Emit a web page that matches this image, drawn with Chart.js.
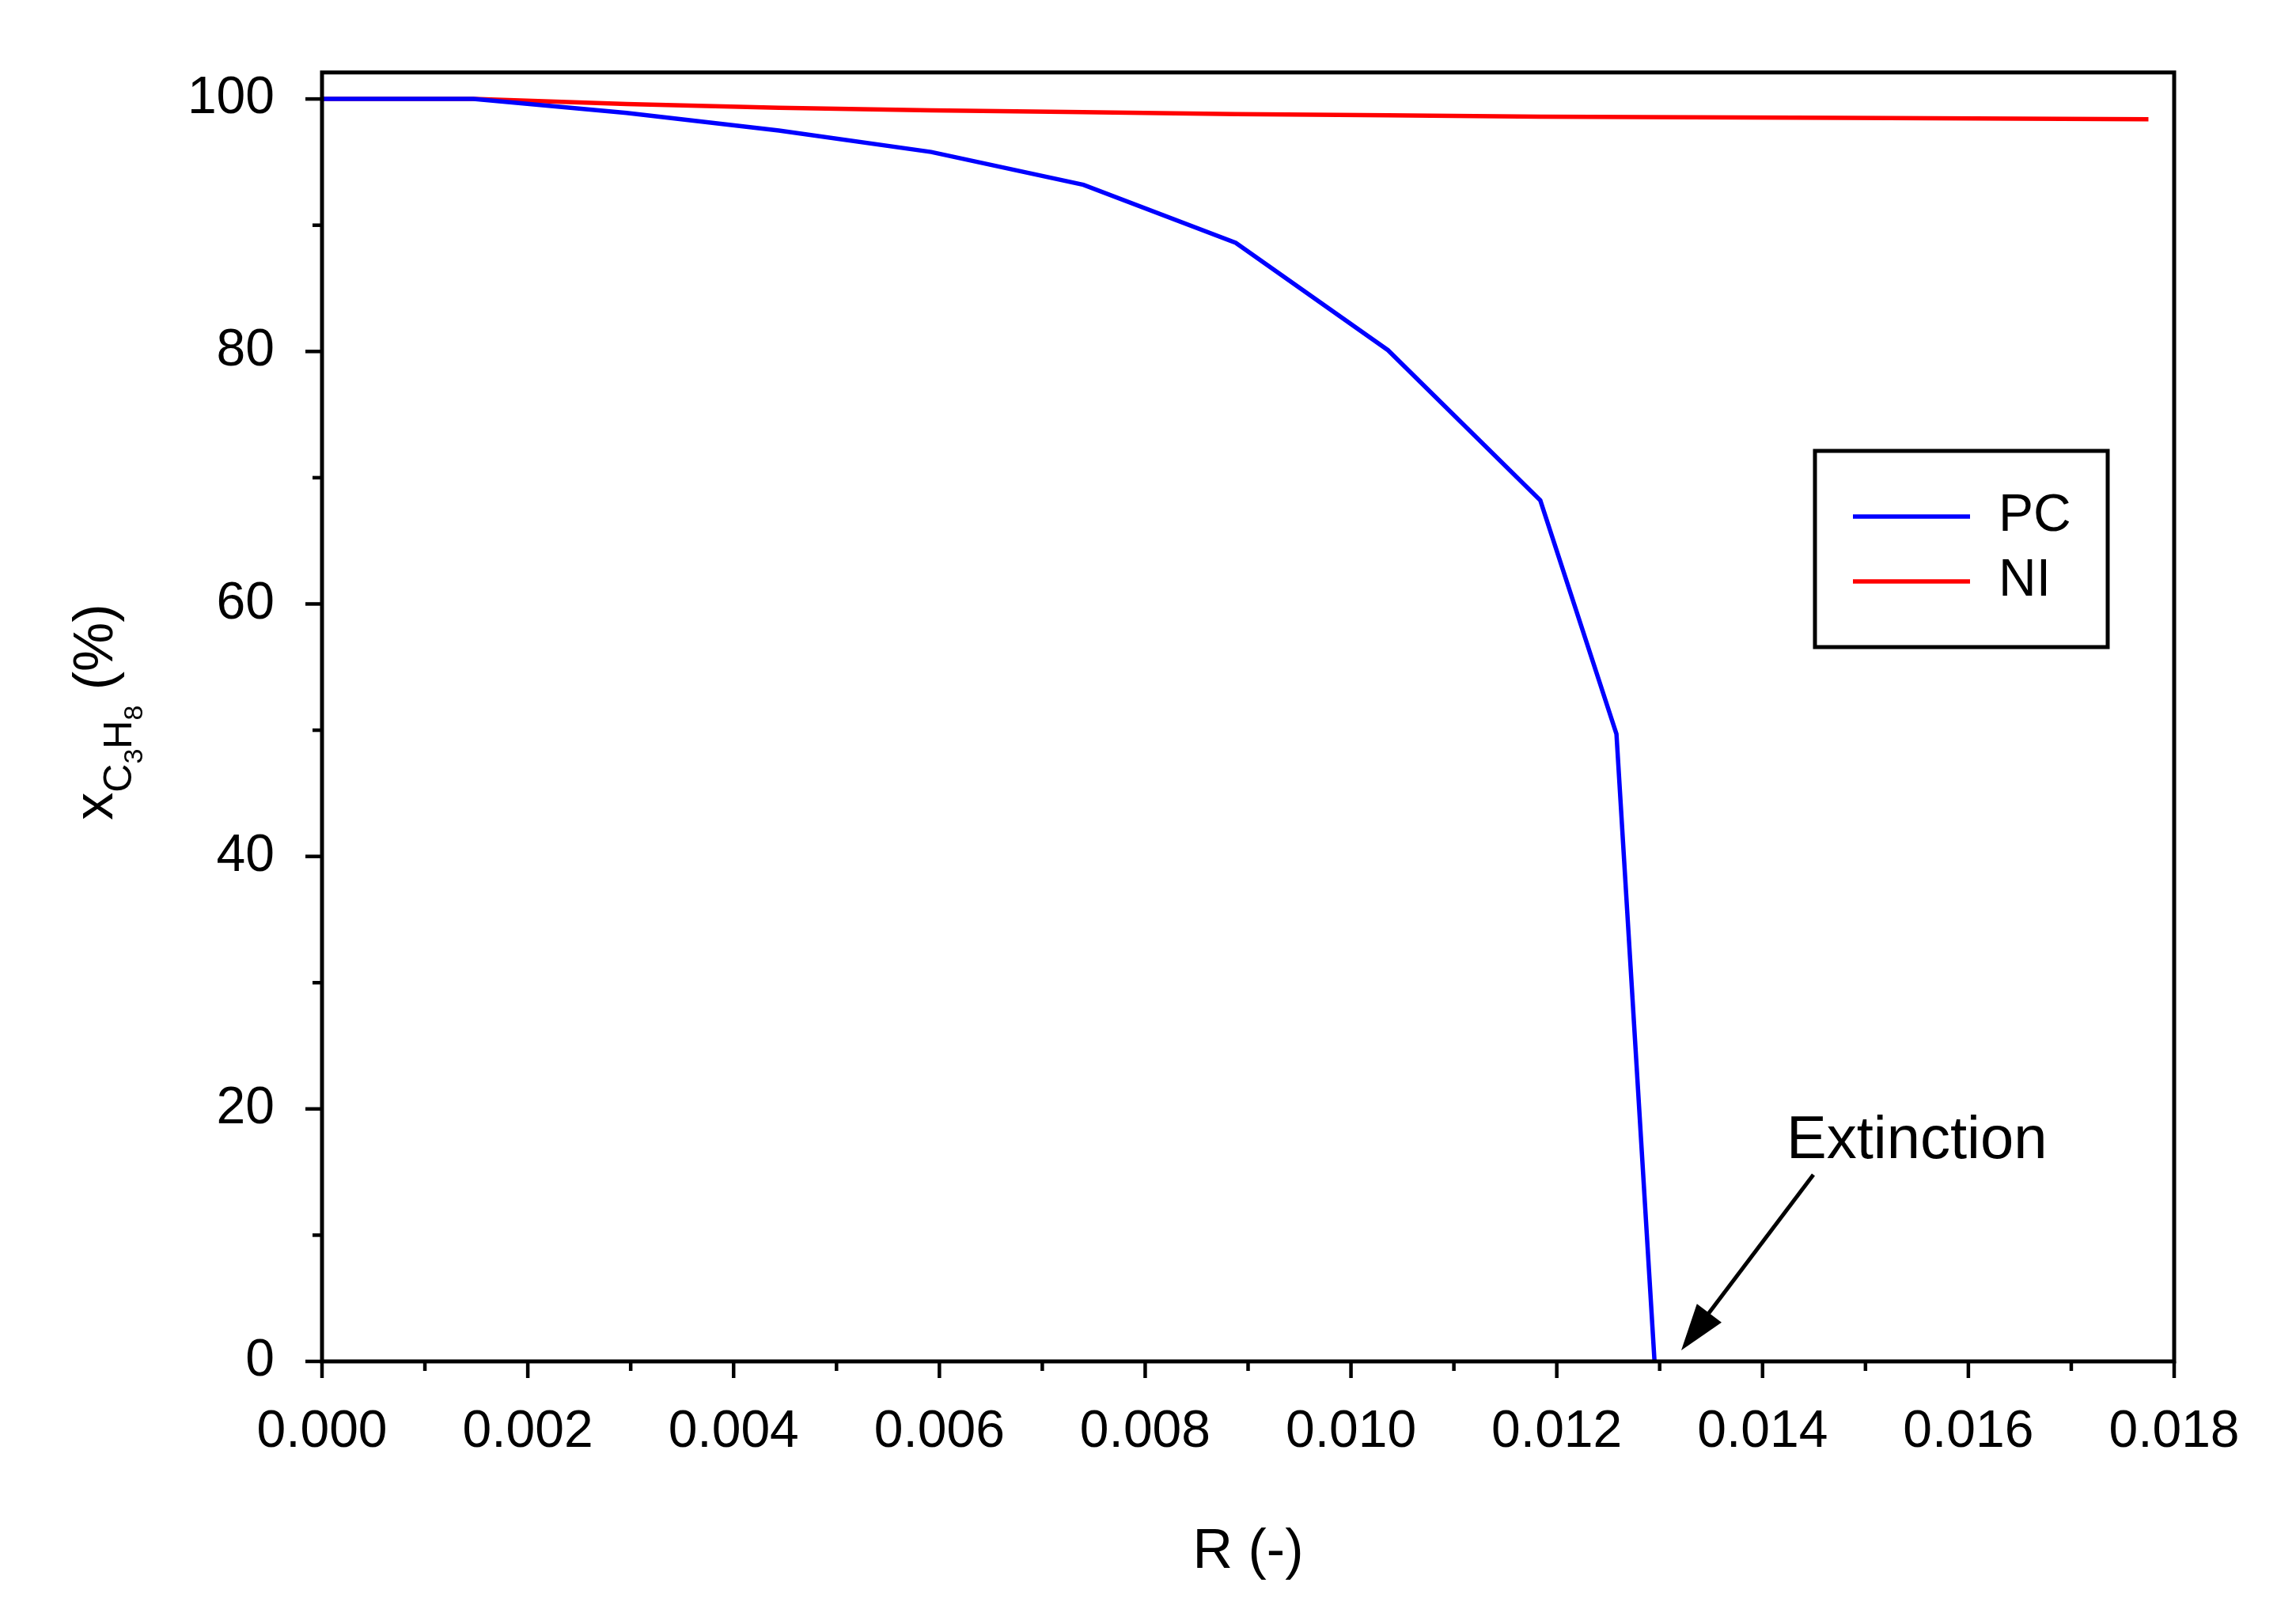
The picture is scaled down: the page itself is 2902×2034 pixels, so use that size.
<!DOCTYPE html>
<html><head><meta charset="utf-8">
<script src="https://cdn.jsdelivr.net/npm/chart.js@4/dist/chart.umd.min.js"></script>
<style>html,body{margin:0;padding:0;background:#fff}#c{display:block}</style>
</head><body>
<canvas id="c" width="2902" height="2034"></canvas>
<script>
const pcR  = [0, 0.00147, 0.00296, 0.00444, 0.00592, 0.0074, 0.00888, 0.01036, 0.01184, 0.01258, 0.01295];
const pcX  = [100, 100, 98.9, 97.5, 95.8, 93.2, 88.6, 80.1, 68.2, 49.7, 0];
const niR  = [0, 0.00147, 0.00296, 0.00444, 0.00592, 0.0074, 0.00888, 0.01036, 0.01184, 0.0148, 0.01775];
const niX  = [100, 100, 99.6, 99.3, 99.1, 98.95, 98.8, 98.7, 98.6, 98.5, 98.4];
const xTicks = [0, 0.002, 0.004, 0.006, 0.008, 0.010, 0.012, 0.014, 0.016, 0.018];
const yTicks = [0, 20, 40, 60, 80, 100];
const seriesNames = ['PC', 'NI'];
const annText = 'Extinction';
const FONT = 'Arial, "Liberation Sans", sans-serif';

const decor = {
  id: 'decor',
  afterDraw(chart) {
    const ctx = chart.ctx, a = chart.chartArea, xs = chart.scales.x, ys = chart.scales.y;
    ctx.save();
    ctx.strokeStyle = '#000'; ctx.lineWidth = 5;
    ctx.strokeRect(a.left, a.top, a.right - a.left, a.bottom - a.top);
    ctx.lineWidth = 4.5;
    for (let v = 0; v <= 0.0180001; v += 0.001) {
      const px = xs.getPixelForValue(v), major = Math.round(v * 1000) % 2 === 0;
      ctx.beginPath(); ctx.moveTo(px, a.bottom); ctx.lineTo(px, a.bottom + (major ? 21 : 12)); ctx.stroke();
    }
    for (let v = 0; v <= 100; v += 10) {
      const py = ys.getPixelForValue(v), major = v % 20 === 0;
      ctx.beginPath(); ctx.moveTo(a.left, py); ctx.lineTo(a.left - (major ? 21 : 12), py); ctx.stroke();
    }
    // y title
    ctx.fillStyle = '#000';
    ctx.translate(142, 900); ctx.rotate(-Math.PI / 2);
    ctx.textBaseline = 'alphabetic'; ctx.textAlign = 'left';
    const parts = [['x', 70, 0], ['C', 50, 24], ['3', 34, 38], ['H', 50, 24], ['8', 34, 38], [' (%)', 70, 0]];
    let w = 0;
    parts.forEach(p => { ctx.font = p[1] + 'px ' + FONT; w += ctx.measureText(p[0]).width; });
    let x = -w / 2;
    parts.forEach(p => { ctx.font = p[1] + 'px ' + FONT; ctx.fillText(p[0], x, p[2]); x += ctx.measureText(p[0]).width; });
    ctx.restore();
    // x title
    ctx.save();
    ctx.fillStyle = '#000'; ctx.font = '70px ' + FONT; ctx.textAlign = 'center';
    ctx.fillText('R (-)', (a.left + a.right) / 2, 1982);
    // legend
    ctx.lineWidth = 5; ctx.strokeRect(2294, 570, 370, 248);
    ctx.lineWidth = 5.5;
    const cols = ['#0000ff', '#ff0000'];
    seriesNames.forEach((n, i) => {
      const y = 653 + i * 82;
      ctx.strokeStyle = cols[i]; ctx.beginPath(); ctx.moveTo(2342, y); ctx.lineTo(2490, y); ctx.stroke();
      ctx.fillStyle = '#000'; ctx.font = '66px ' + FONT; ctx.textAlign = 'left'; ctx.textBaseline = 'middle';
      ctx.fillText(n, 2526, y);
    });
    // annotation
    ctx.font = '76px ' + FONT; ctx.textBaseline = 'alphabetic';
    ctx.fillText(annText, 2258, 1464);
    const x1 = 2292, y1 = 1485, x2 = 2125, y2 = 1707;
    ctx.strokeStyle = '#000'; ctx.lineWidth = 5;
    ctx.beginPath(); ctx.moveTo(x1, y1); ctx.lineTo(x2 + 25, y2 - 34); ctx.stroke();
    const ang = Math.atan2(y2 - y1, x2 - x1), L = 62, hw = 0.32;
    ctx.beginPath(); ctx.moveTo(x2, y2);
    ctx.lineTo(x2 - L * Math.cos(ang - hw), y2 - L * Math.sin(ang - hw));
    ctx.lineTo(x2 - L * Math.cos(ang + hw), y2 - L * Math.sin(ang + hw));
    ctx.closePath(); ctx.fillStyle = '#000'; ctx.fill();
    ctx.restore();
  }
};

new Chart(document.getElementById('c'), {
  type: 'scatter',
  data: { datasets: [
    { label: seriesNames[0], data: pcR.map((r, i) => ({x: r, y: pcX[i]})), showLine: true, borderColor: '#0000ff', borderWidth: 5.5, pointRadius: 0, tension: 0 },
    { label: seriesNames[1], data: niR.map((r, i) => ({x: r, y: niX[i]})), showLine: true, borderColor: '#ff0000', borderWidth: 5.5, pointRadius: 0, tension: 0 }
  ]},
  options: {
    responsive: false, animation: false, devicePixelRatio: 1,
    layout: { padding: { top: 67, right: 154, left: 0, bottom: 0 } },
    plugins: { legend: { display: false }, tooltip: { enabled: false } },
    scales: {
      x: { type: 'linear', min: 0, max: 0.018,
        afterBuildTicks: s => { s.ticks = xTicks.map(v => ({value: v})); },
        afterFit: s => { s.height = 313; },
        grid: { display: false }, border: { display: false },
        ticks: { padding: 42, color: '#000', font: { size: 66, family: FONT }, maxRotation: 0, autoSkip: false,
          callback: v => Number(v).toFixed(3) } },
      y: { type: 'linear', min: 0, max: 102.1,
        afterBuildTicks: s => { s.ticks = yTicks.map(v => ({value: v})); },
        afterFit: s => { s.width = 407; },
        grid: { display: false }, border: { display: false },
        ticks: { padding: 52, color: '#000', font: { size: 66, family: FONT }, autoSkip: false } }
    }
  },
  plugins: [decor]
});
</script>
</body></html>
